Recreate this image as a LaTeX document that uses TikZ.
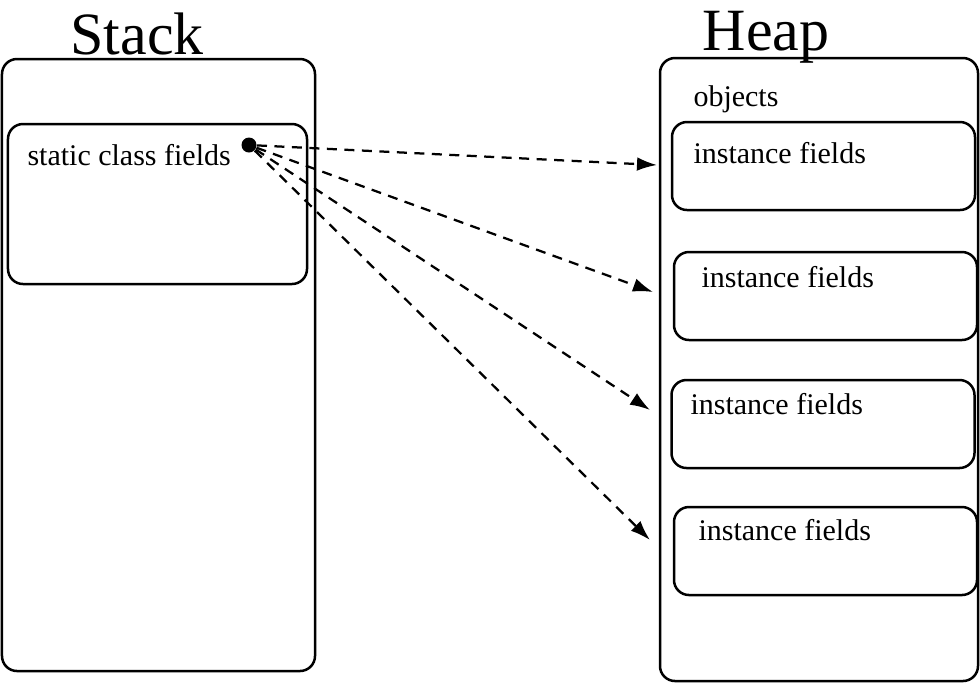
\documentclass[tikz,border=0pt]{standalone}
\usepackage{fontspec}
\setmainfont{Liberation Serif}
\usetikzlibrary{arrows.meta}
\begin{document}
\begin{tikzpicture}[x=0.4pt,y=-0.4pt,
    area/.style={draw,line width=1pt,rounded corners=6pt,inner sep=0pt},
    fieldbox/.style={area,minimum width=121.2pt,minimum height=35.2pt},
    title/.style={anchor=base,font=\fontsize{24}{28}\selectfont},
    label/.style={anchor=base west,inner sep=0pt,font=\fontsize{12}{14}\selectfont},
    ref/.style={dashed,dash pattern=on 4pt off 3pt,line width=0.9pt,-{Latex[length=8pt,width=5.5pt]}}]
    \useasboundingbox (0,0) rectangle (980,683);

    % the two memory areas
    \node[area,minimum width=125.2pt,minimum height=244.8pt] (stack) at (158.5,365) {};
    \node[area,minimum width=127.2pt,minimum height=249.2pt] (heap) at (819,369.5) {};
    \node[title] (stacktitle) at (137,54) {Stack};
    \node[title] (heaptitle) at (766,50) {Heap};

    % static part of the class
    \node[area,minimum width=119.6pt,minimum height=64pt] (static) at (157.5,204) {};
    \node[label] (staticlabel) at (27,165) {static class fields};
    \node[circle,fill,inner sep=0pt,minimum size=6pt] (dot) at (249,145) {};

    % objects on the heap
    \node[label] (objlabel) at (693,106) {objects};
    \node[fieldbox] (obj1) at (823.5,166) {};
    \node[fieldbox] (obj2) at (825.5,296) {};
    \node[fieldbox] (obj3) at (823,424) {};
    \node[fieldbox] (obj4) at (825.5,551) {};
    \node[label] (inst1) at (693,163) {instance fields};
    \node[label] (inst2) at (701,287) {instance fields};
    \node[label] (inst3) at (690,414) {instance fields};
    \node[label] (inst4) at (698,540) {instance fields};

    % references
    \coordinate (end1) at (657,165);
    \coordinate (end2) at (653,292);
    \coordinate (end3) at (650,410);
    \coordinate (end4) at (650,540);
    \foreach \i in {1,...,4}
        \draw[ref] (dot) -- (end\i);
\end{tikzpicture}
\end{document}
